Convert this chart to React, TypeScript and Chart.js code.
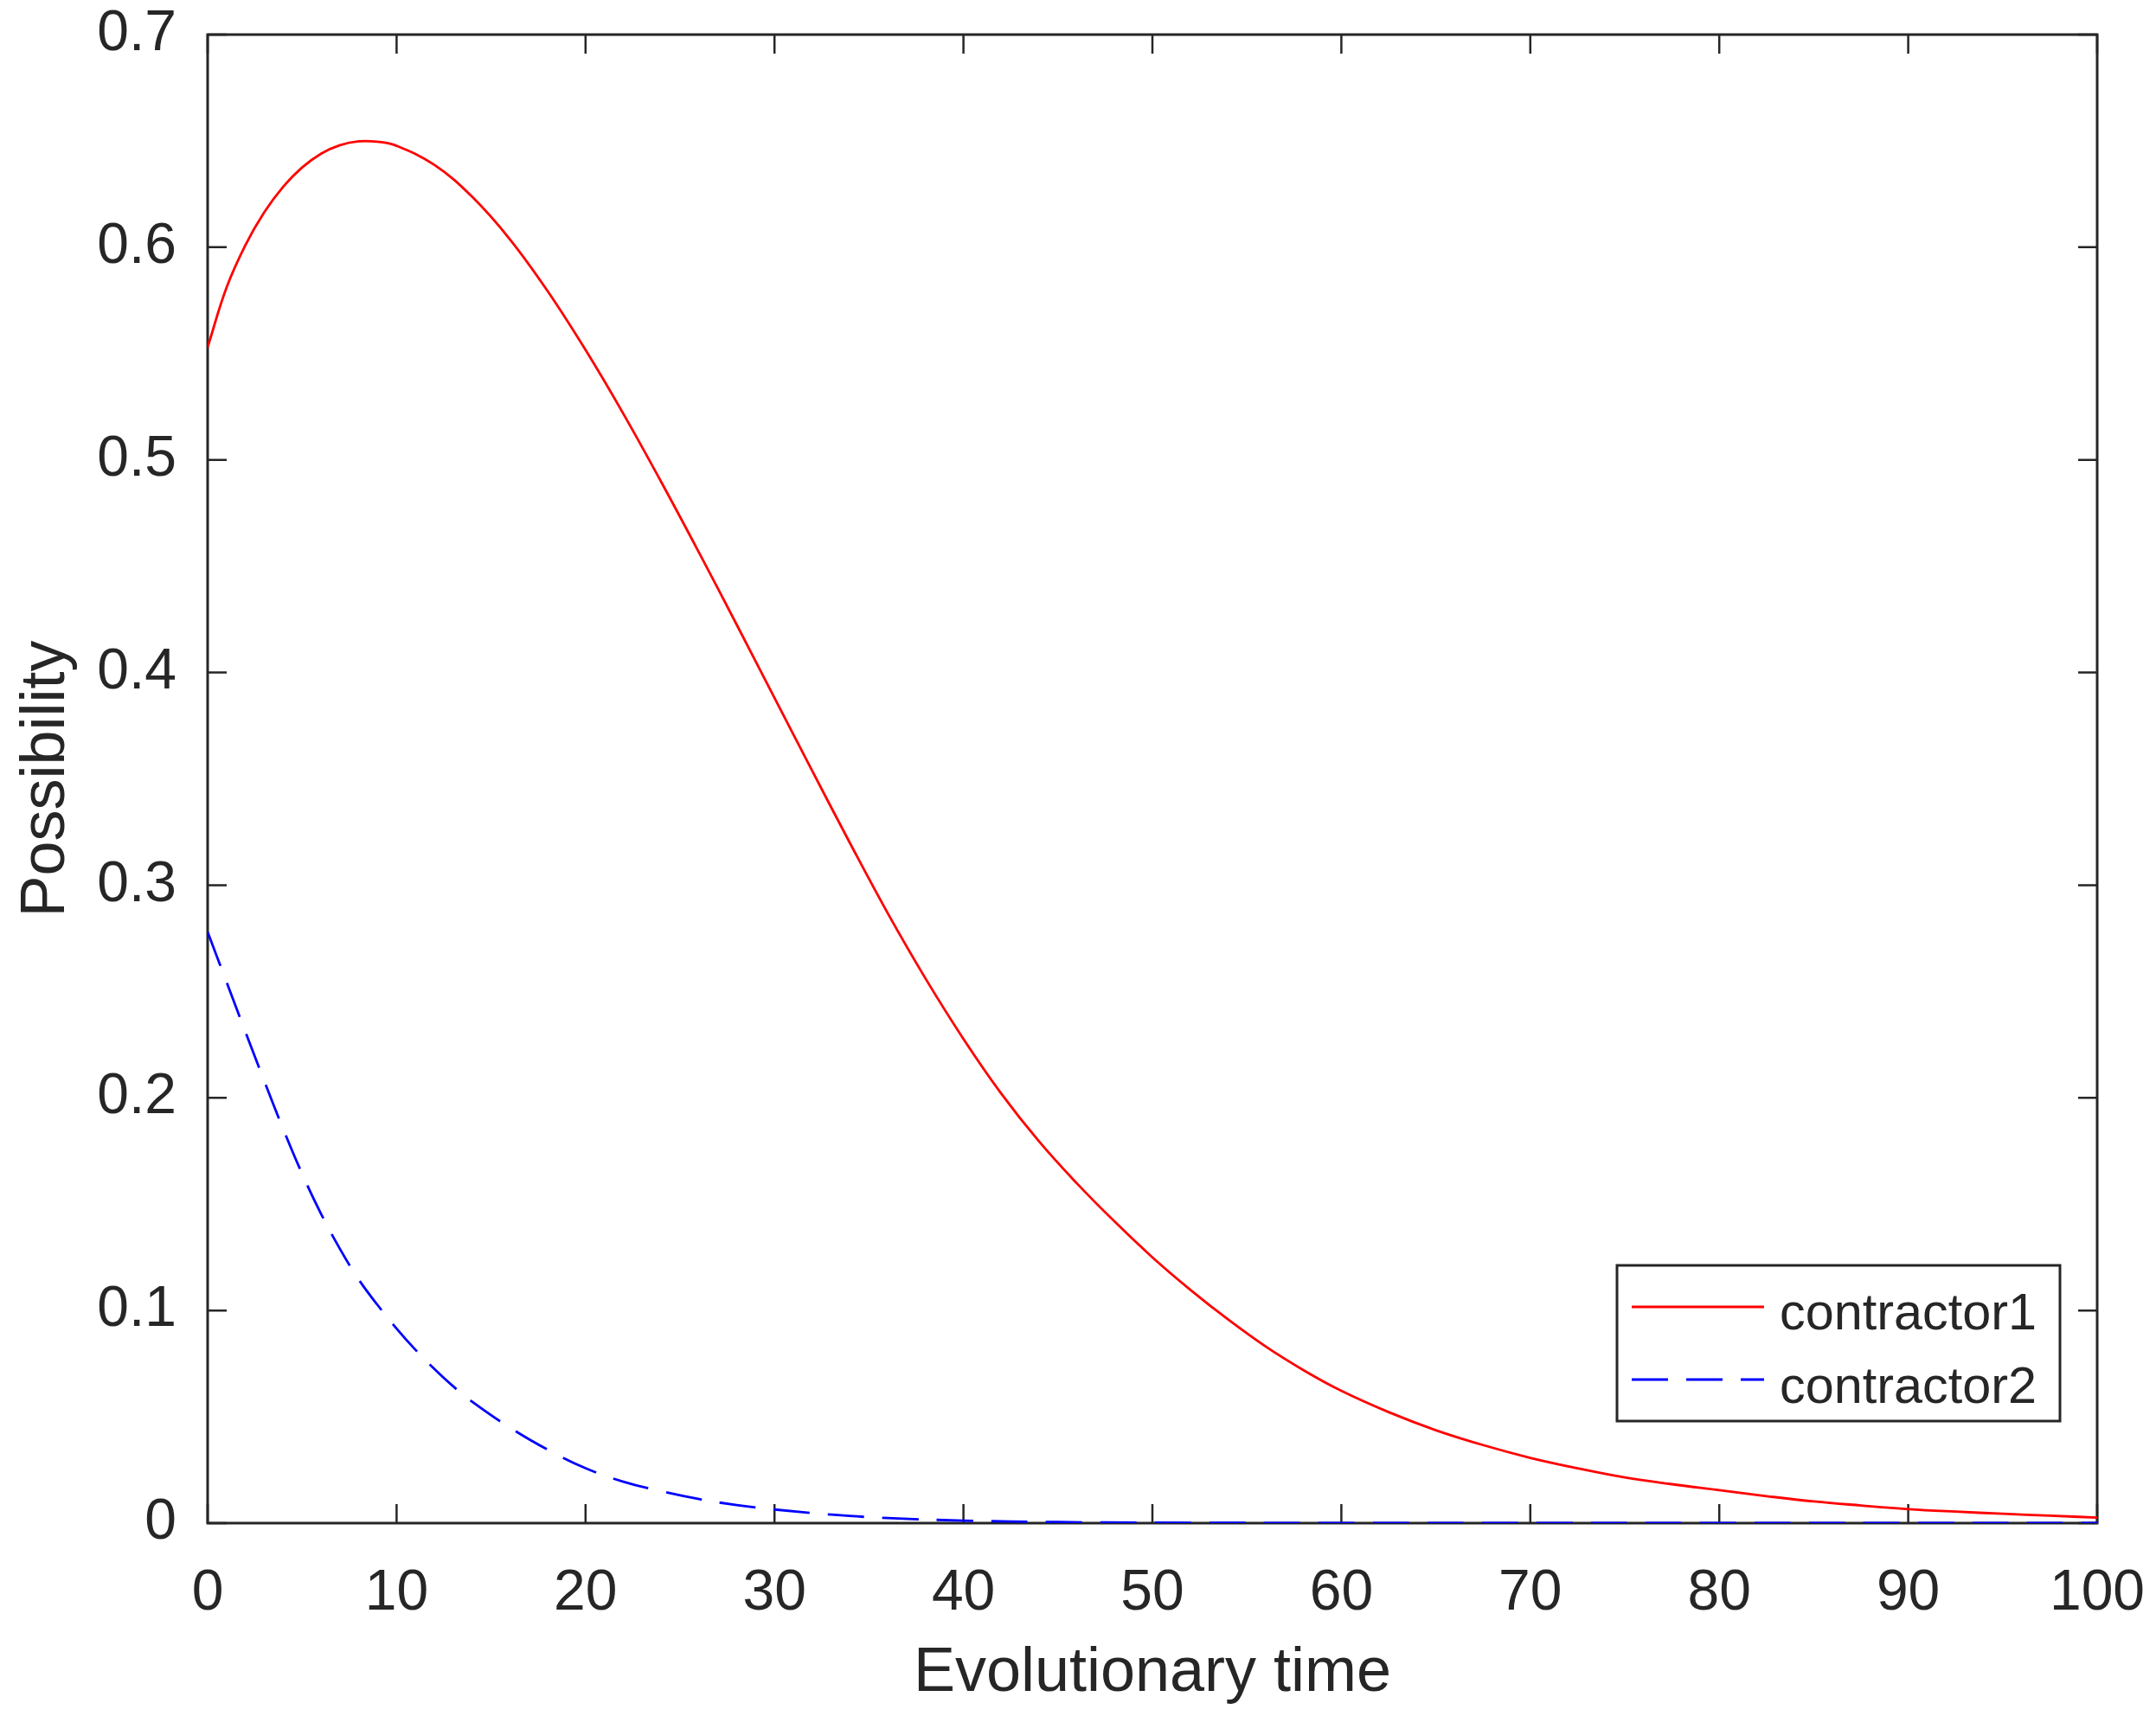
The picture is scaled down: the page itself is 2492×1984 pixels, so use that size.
import React, { useEffect, useRef } from 'react';
import { Chart, registerables } from 'chart.js';
import type { Plugin } from 'chart.js';

Chart.register(...registerables);

const FONT = '"Liberation Sans", Arial, Helvetica, sans-serif';
const INK = '#262626';
const TICK_LEN = 22;

// axis ticks
const xTicks = [0, 10, 20, 30, 40, 50, 60, 70, 80, 90, 100];
const yTicks = [0, 0.1, 0.2, 0.3, 0.4, 0.5, 0.6, 0.7];

// contractor1 (solid red)
const contractor1Time = [
    0, 1, 2, 3, 4, 5, 6, 7, 8, 9, 10, 12, 14, 16, 18, 20, 22, 24, 26, 28, 30,
    32, 34, 36, 38, 40, 42, 44, 46, 48, 50, 52, 54, 56, 58, 60,
    62.5, 65, 67.5, 70, 72.5, 75, 77.5, 80, 82.5, 85, 87.5, 90, 92.5, 95, 97.5, 100,
];
const contractor1Value = [
    0.553, 0.581, 0.601, 0.6165, 0.6285, 0.6375, 0.644, 0.648, 0.6498, 0.6496, 0.6477,
    0.6387, 0.6237, 0.6037, 0.5793, 0.5517, 0.5217, 0.4897, 0.4565, 0.4225, 0.3881,
    0.3537, 0.3197, 0.2867, 0.256, 0.2277, 0.202, 0.1795, 0.1598, 0.1418,
    0.125, 0.1098, 0.0958, 0.083, 0.0719, 0.0622,
    0.0522, 0.0437, 0.0367, 0.0307, 0.0258, 0.0215, 0.0183, 0.0155, 0.0127, 0.0102,
    0.0083, 0.0066, 0.0054, 0.0044, 0.0035, 0.0026,
];

// contractor2 (dashed blue)
const contractor2Time = [
    0, 1, 2, 3, 4, 5, 6, 7, 8, 9, 10, 11, 12, 13, 14, 16, 18, 20, 22, 24, 26, 28, 30,
    33, 36, 40, 45, 50, 60, 70, 80, 90, 100,
];
const contractor2Value = [
    0.278, 0.2545, 0.231, 0.2078, 0.1853, 0.1643, 0.1455, 0.129, 0.1145, 0.1025, 0.0915,
    0.0815, 0.0725, 0.0643, 0.0571, 0.0449, 0.0345, 0.0258, 0.0195, 0.015, 0.0113, 0.0085,
    0.0064, 0.004, 0.0024, 0.0012, 0.0005, 0.0002, 0.00005, 0, 0, 0, 0,
];

const toPoints = (xs: number[], ys: number[]) => xs.map((x, i) => ({ x, y: ys[i] }));

// box round the plot with inward ticks on all four sides (MATLAB look)
const frameAndTicks: Plugin = {
    id: 'frameAndTicks',
    beforeDatasetsDraw(chart) {
        const { ctx, chartArea: a, scales } = chart;
        ctx.save();
        ctx.strokeStyle = INK;
        ctx.lineWidth = 2.5;
        ctx.beginPath();
        scales.x.ticks.forEach((t) => {
            const px = scales.x.getPixelForValue(t.value);
            ctx.moveTo(px, a.bottom);
            ctx.lineTo(px, a.bottom - TICK_LEN);
            ctx.moveTo(px, a.top);
            ctx.lineTo(px, a.top + TICK_LEN);
        });
        scales.y.ticks.forEach((t) => {
            const py = scales.y.getPixelForValue(t.value);
            ctx.moveTo(a.left, py);
            ctx.lineTo(a.left + TICK_LEN, py);
            ctx.moveTo(a.right, py);
            ctx.lineTo(a.right - TICK_LEN, py);
        });
        ctx.stroke();
        ctx.lineWidth = 3;
        ctx.strokeRect(a.left, a.top, a.width, a.height);
        ctx.restore();
    },
};

// boxed legend in the lower right corner
const boxLegend: Plugin = {
    id: 'boxLegend',
    afterDraw(chart) {
        const { ctx, chartArea: a } = chart;
        const w = 512;
        const h = 180;
        const left = a.right - 43 - w;
        const top = a.bottom - 118 - h;
        ctx.save();
        ctx.fillStyle = '#ffffff';
        ctx.fillRect(left, top, w, h);
        ctx.lineWidth = 3;
        ctx.strokeStyle = INK;
        ctx.strokeRect(left, top, w, h);
        ctx.font = `59.4px ${FONT}`;
        ctx.textBaseline = 'alphabetic';
        chart.data.datasets.forEach((ds: any, i) => {
            const ly = top + 48 + i * 84;
            ctx.beginPath();
            ctx.setLineDash(ds.borderDash || []);
            ctx.strokeStyle = ds.borderColor;
            ctx.lineWidth = ds.borderWidth;
            ctx.moveTo(left + 17, ly);
            ctx.lineTo(left + 170, ly);
            ctx.stroke();
            ctx.setLineDash([]);
            ctx.fillStyle = INK;
            ctx.fillText(ds.label, left + 188, top + 74 + i * 85);
        });
        ctx.restore();
    },
};

const EvolutionChart: React.FC = () => {
    const canvasRef = useRef<HTMLCanvasElement>(null);
    const chartRef = useRef<Chart | null>(null);

    useEffect(() => {
        if (!canvasRef.current) return;
        if (chartRef.current) {
            chartRef.current.destroy();
        }

        chartRef.current = new Chart(canvasRef.current, {
            type: 'line',
            data: {
                datasets: [
                    {
                        label: 'contractor1',
                        data: toPoints(contractor1Time, contractor1Value),
                        borderColor: '#ff0000',
                        borderWidth: 2.8,
                        pointRadius: 0,
                        fill: false,
                        tension: 0.4,
                    },
                    {
                        label: 'contractor2',
                        data: toPoints(contractor2Time, contractor2Value),
                        borderColor: '#0000ff',
                        borderWidth: 2.8,
                        borderDash: [42, 21],
                        pointRadius: 0,
                        fill: false,
                        tension: 0.4,
                    },
                ],
            },
            options: {
                animation: false,
                responsive: true,
                maintainAspectRatio: false,
                layout: {
                    autoPadding: false,
                    padding: { top: 40, right: 68, bottom: 0, left: 0 },
                },
                plugins: {
                    legend: { display: false },
                    title: { display: false },
                    tooltip: { enabled: false },
                },
                scales: {
                    x: {
                        type: 'linear',
                        min: 0,
                        max: 100,
                        afterBuildTicks: (scale) => {
                            scale.ticks = xTicks.map((value) => ({ value }));
                        },
                        afterFit: (scale: any) => {
                            scale.height = 223;
                            scale.paddingLeft = 0;
                            scale.paddingRight = 0;
                        },
                        grid: { display: false, drawTicks: false },
                        border: { display: false },
                        ticks: {
                            autoSkip: false,
                            maxRotation: 0,
                            padding: 42,
                            color: INK,
                            font: { family: FONT, size: 66 },
                            callback: (v) => String(v),
                        },
                        title: {
                            display: true,
                            text: 'Evolutionary time',
                            color: INK,
                            font: { family: FONT, size: 72 },
                            padding: { top: 0, bottom: 6 },
                        },
                    },
                    y: {
                        type: 'linear',
                        min: 0,
                        max: 0.7,
                        afterBuildTicks: (scale) => {
                            scale.ticks = yTicks.map((value) => ({ value }));
                        },
                        afterFit: (scale: any) => {
                            scale.width = 240;
                            scale.paddingTop = 0;
                            scale.paddingBottom = 0;
                        },
                        grid: { display: false, drawTicks: false },
                        border: { display: false },
                        ticks: {
                            autoSkip: false,
                            padding: 36,
                            color: INK,
                            font: { family: FONT, size: 66 },
                            callback: (v) => (Number(v) === 0 ? '0' : Number(v).toFixed(1)),
                        },
                        title: {
                            display: true,
                            text: 'Possibility',
                            color: INK,
                            font: { family: FONT, size: 72 },
                            padding: { top: 11, bottom: 0 },
                        },
                    },
                },
            },
            plugins: [frameAndTicks, boxLegend],
        });

        return () => {
            if (chartRef.current) {
                chartRef.current.destroy();
                chartRef.current = null;
            }
        };
    }, []);

    return (
        <div
            style={{
                position: 'fixed',
                left: 0,
                top: 0,
                width: '2492px',
                height: '1984px',
                background: '#ffffff',
            }}
        >
            <canvas ref={canvasRef} />
        </div>
    );
};

export default function App() {
    return <EvolutionChart />;
}
